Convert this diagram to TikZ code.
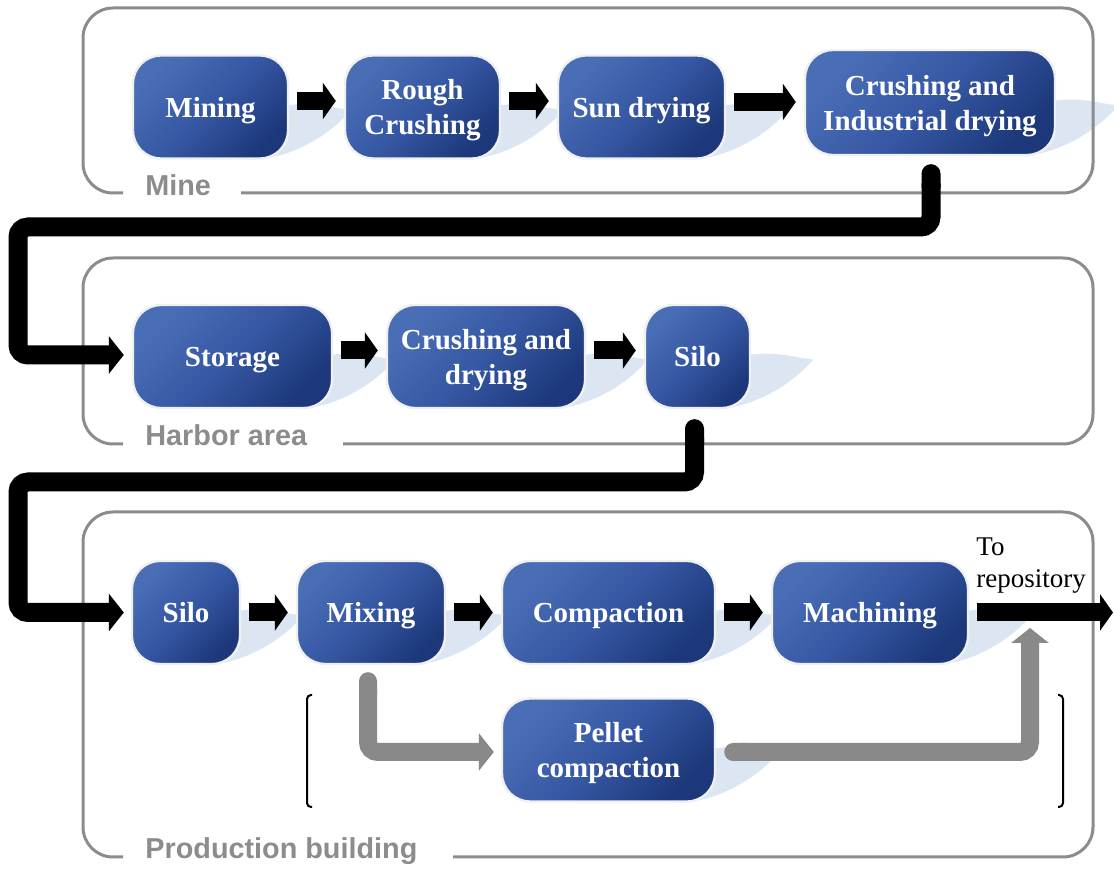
\documentclass[tikz,border=0pt]{standalone}
\usepackage{fontspec}
\setmainfont{Liberation Serif}
\newfontfamily\groupfamily{Liberation Sans}
\usetikzlibrary{calc}
\usetikzlibrary{arrows.meta}
\usetikzlibrary{backgrounds}

\definecolor{stageL}{HTML}{4A6EB6}
\definecolor{stageM}{HTML}{3657A3}
\definecolor{stageD}{HTML}{1C387A}
\definecolor{stageEdge}{HTML}{F0F0F0}
\definecolor{shadowBlue}{HTML}{DCE6F2}
\definecolor{groupGray}{HTML}{8C8C8C}
\definecolor{pathGray}{HTML}{898989}

\newcommand{\stagefont}{\fontsize{14.5}{17.5}\selectfont\bfseries}
\newcommand{\groupfont}{\groupfamily\fontsize{14.4}{17}\selectfont\bfseries}

\tikzset{
  stage/.style={rectangle, rounded corners=14pt, draw=stageEdge, line width=1.2pt,
    top color=stageL, bottom color=stageD, middle color=stageM, shading angle=45,
    text=white, font=\stagefont, align=center, inner sep=0pt, text depth=0pt,
    minimum height=51.5pt},
  flowarrow/.style={line width=9pt, -{Triangle[length=6.5pt,width=18pt]},
    shorten <=4pt, shorten >=4pt},
  bigarrow/.style={line width=9.5pt, rounded corners=5pt,
    {Round Cap[]}-{Triangle[length=7.5pt,width=18.5pt]}},
  grayarrow/.style={bigarrow, draw=pathGray, line width=9pt},
  groupline/.style={draw=groupGray, line width=1.5pt, rounded corners=15pt},
  grouplabel/.style={text=groupGray, font=\groupfont, anchor=base west, inner sep=0pt},
  bracket/.style={line width=1pt, rounded corners=2pt},
}

\begin{document}
\begin{tikzpicture}[x=0.5pt, y=-0.5pt]
    \useasboundingbox (0,0) rectangle (1114,870);

    % areas
    \draw[groupline] (241,193) -- (1093,193) -- (1093,8) -- (83,8) -- (83,193) -- (123,193);
    \node[grouplabel] (mine) at (145,196) {Mine};
    \draw[groupline] (343,444) -- (1093,444) -- (1093,258) -- (83,258) -- (83,444) -- (123,444);
    \node[grouplabel] (harbor) at (145,446) {Harbor area};
    \draw[groupline] (453,857) -- (1093,857) -- (1093,512) -- (83,512) -- (83,857) -- (123,857);
    \node[grouplabel] (building) at (145,859) {Production building};

    % mine
    \node[stage, minimum width=77.5pt] (mining) at (210.5,107) {Mining};
    \node[stage, minimum width=77.5pt] (rough) at (422.5,107) {Rough\\Crushing};
    \node[stage, minimum width=83.5pt] (sun) at (641.5,107) {Sun drying};
    \node[stage, minimum width=125pt, minimum height=52.5pt] (indus) at (930,102.5) {Crushing and\\Industrial drying};

    % harbor area
    \node[stage, minimum width=99.5pt] (storage) at (232.5,356.5) {Storage};
    \node[stage, minimum width=99pt] (crush) at (486,356.5) {Crushing and\\drying};
    \node[stage, minimum width=52.5pt] (silo1) at (697.5,356.5) {Silo};

    % production building
    \node[stage, minimum width=54pt] (silo2) at (186,612.5) {Silo};
    \node[stage, minimum width=74pt] (mixing) at (371,612.5) {Mixing};
    \node[stage, minimum width=106.5pt] (compact) at (608.5,612.5) {Compaction};
    \node[stage, minimum width=98pt] (machining) at (870,612.5) {Machining};
    \node[stage, minimum width=106.5pt] (pellet) at (608.5,750) {Pellet\\compaction};

    \begin{pgfonlayer}{background}
      \foreach \n in {mining,rough,sun,indus,storage,crush,silo1,silo2,mixing,compact,machining,pellet}
        \fill[shadowBlue] (\n.center) -- ($(\n.east)+(0,-2)$)
          .. controls +(30,-3) and +(-20,-2) .. ($(\n.east)+(62,3)$)
          .. controls +(-22,26) and +(40,0) .. ($(\n.south east)+(-40,0)$) -- cycle;
    \end{pgfonlayer}

    \coordinate (out) at (1113,612.5);
    \coordinate (merge) at (1030,628);

    \draw[flowarrow] ($(mining.east)+(0,-6)$) -- ($(rough.west)+(0,-6)$);
    \draw[flowarrow] ($(rough.east)+(0,-6)$) -- ($(sun.west)+(0,-6)$);
    \draw[flowarrow] ($(sun.east)+(0,-5)$) -- ($(indus.west)+(0,-0.5)$);
    \draw[flowarrow] ($(storage.east)+(0,-6)$) -- ($(crush.west)+(0,-6)$);
    \draw[flowarrow] ($(crush.east)+(0,-6)$) -- ($(silo1.west)+(0,-6)$);
    \draw[flowarrow] (silo2) -- (mixing);
    \draw[flowarrow] (mixing) -- (compact);
    \draw[flowarrow] (compact) -- (machining);
    \draw[flowarrow, shorten >=0pt] (machining.east) -- (out);

    \draw[bigarrow] ($(indus.south)+(1,8)$) |- (18,227) |- ($(storage.west)+(-8,-1.5)$);
    \draw[bigarrow] ($(silo1.south)+(-3,10)$) |- (18,482) |- ($(silo2.west)+(-7,0)$);

    \draw[grayarrow] ($(mixing.south)+(-3,7)$) |- ($(pellet.west)+(-7,2)$);
    \draw[grayarrow] ($(pellet.east)+(8,2)$) -| (merge);

    \node[anchor=north west, inner sep=0pt, align=left, font=\fontsize{13.5}{16}\selectfont] (repo) at (976,537) {To\\repository};

    \draw[bracket] (312,695) -- (307,695) -- (307,807) -- (312,807);
    \draw[bracket] (1058,695) -- (1063,695) -- (1063,807) -- (1058,807);
\end{tikzpicture}
\end{document}
